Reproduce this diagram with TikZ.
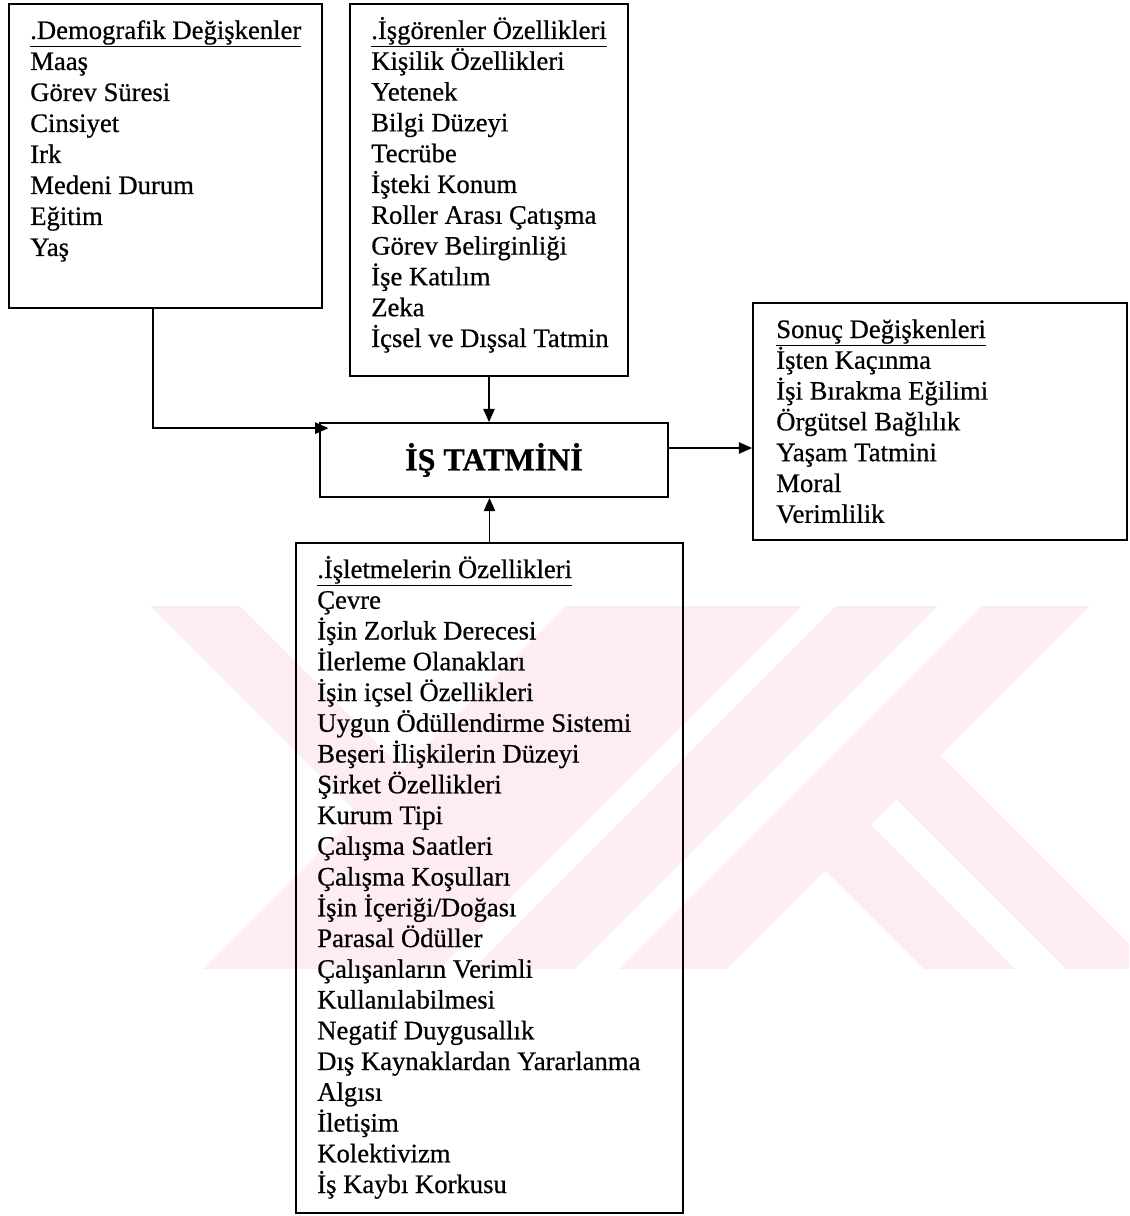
\documentclass[tikz,border=0pt]{standalone}
\usepackage{fontspec}
\setmainfont{Liberation Serif}[FakeBold=0.6]
\usetikzlibrary{arrows.meta,fit}
\definecolor{wm}{RGB}{253,237,240}
\tikzset{
  box/.style={draw, line width=1.3pt, inner sep=0pt},
  txt/.style={anchor=base west, inner sep=0pt, font=\fontsize{20}{23}\selectfont},
  arr/.style={line width=1.3pt, -{Triangle[length=10pt,width=8.5pt]}},
}
\begin{document}
\begin{tikzpicture}[x=0.75pt,y=-0.75pt]
\useasboundingbox (0,0) rectangle (1129,1216);
% watermark
\begin{scope}
  \clip (0,606) rectangle (1129,968);
  \fill[wm] (44,500) -- (134,500) -- (404.5,770.5) -- (359.5,815.5) -- cycle;
  \fill[wm] (672,500) -- (908,500) -- (308,1100) -- (72,1100) -- cycle;
  \fill[wm] (942,500) -- (1044,500) -- (444,1100) -- (342,1100) -- cycle;
  \fill[wm] (1088,500) -- (1196,500) -- (596,1100) -- (488,1100) -- cycle;
  \fill[wm] (893.5,796.5) -- (937.5,752.5) -- (1285,1100) -- (1197,1100) -- cycle;
  \fill[wm] (822.5,867.5) -- (868,822) -- (1146,1100) -- (1055,1100) -- cycle;
\end{scope}
% boxes
\node[box, fit={(9,4) (322,308)}] (demo) {};
\node[box, fit={(350,4) (628,376)}] (isg) {};
\node[box, fit={(753,303) (1127,540)}] (son) {};
\node[box, fit={(296,543) (683,1213)}] (isl) {};
\node[box, minimum width=261pt, minimum height=55.5pt, font=\fontsize{24}{28}\selectfont\bfseries] (c) at (494,460) {İŞ TATMİNİ};
% texts
\foreach \t [count=\i] in {{\underline{.Demografik Değişkenler}},Maaş,Görev Süresi,Cinsiyet,Irk,Medeni Durum,Eğitim,Yaş}
  \node[txt] (demo-\i) at (30,{39+(\i-1)*31}) {\t};
\foreach \t [count=\i] in {{\underline{.İşgörenler Özellikleri}},Kişilik Özellikleri,Yetenek,Bilgi Düzeyi,Tecrübe,İşteki Konum,Roller Arası Çatışma,Görev Belirginliği,İşe Katılım,Zeka,İçsel ve Dışsal Tatmin}
  \node[txt] (isg-\i) at (371,{39+(\i-1)*30.8}) {\t};
\foreach \t [count=\i] in {{\underline{Sonuç Değişkenleri}},İşten Kaçınma,İşi Bırakma Eğilimi,Örgütsel Bağlılık,Yaşam Tatmini,Moral,Verimlilik}
  \node[txt] (son-\i) at (776,{338+(\i-1)*30.8}) {\t};
\foreach \t [count=\i] in {{\underline{.İşletmelerin Özellikleri}},Çevre,İşin Zorluk Derecesi,İlerleme Olanakları,İşin içsel Özellikleri,Uygun Ödüllendirme Sistemi,Beşeri İlişkilerin Düzeyi,Şirket Özellikleri,Kurum Tipi,Çalışma Saatleri,Çalışma Koşulları,{İşin İçeriği/Doğası},Parasal Ödüller,Çalışanların Verimli,Kullanılabilmesi,Negatif Duygusallık,Dış Kaynaklardan Yararlanma,Algısı,İletişim,Kolektivizm,İş Kaybı Korkusu}
  \node[txt] (isl-\i) at (317,{578+(\i-1)*30.75}) {\t};
% connectors
\coordinate (dl) at (153,308);
\draw[arr] (dl) |- ([shift={(7pt,-4.5pt)}]c.north west);
\draw[arr] (isg.south) -- (isg.south |- c.north);
\draw[arr] (isl.north) -- (isl.north |- c.south);
\draw[arr] ([yshift=9pt]c.east) -- ([yshift=9pt]c.east -| son.west);
\end{tikzpicture}
\end{document}
